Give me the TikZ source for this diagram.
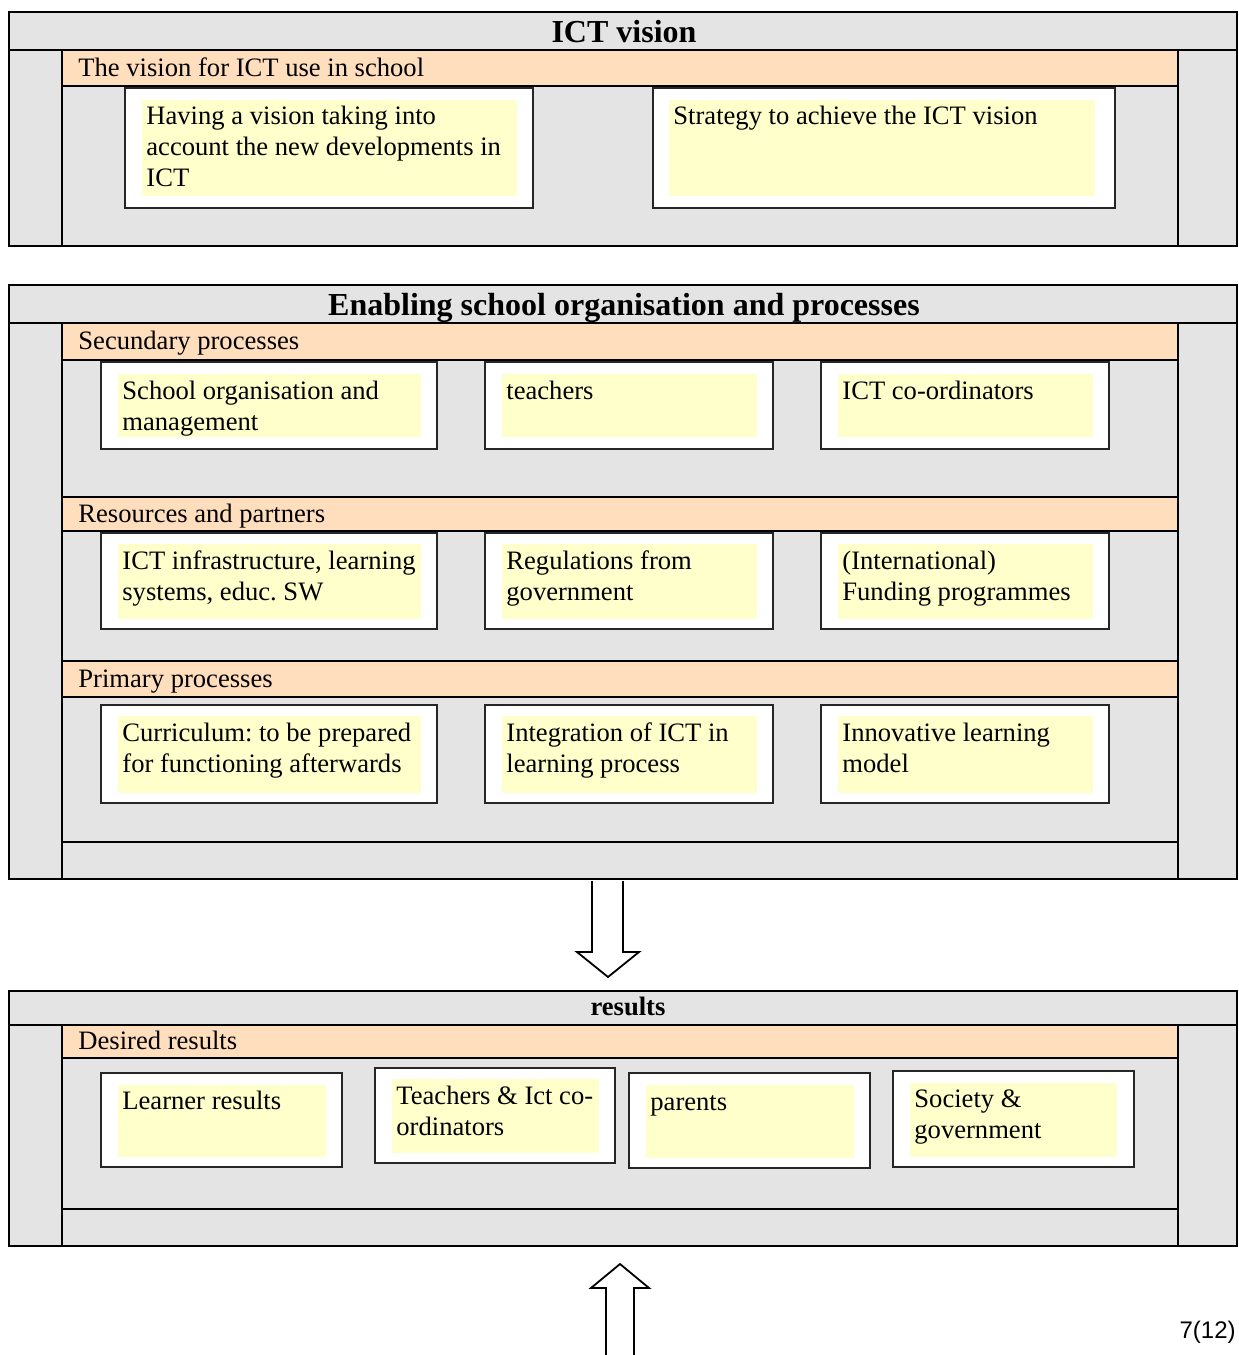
\documentclass[tikz,border=0pt]{standalone}
\usepackage{fontspec}
\setmainfont{Liberation Serif}
\newfontfamily\pgnfont{Liberation Sans}
\frenchspacing
\definecolor{secgray}{HTML}{E4E4E4}
\definecolor{bandorange}{HTML}{FFDEBD}
\definecolor{noteyellow}{HTML}{FFFFCC}
\newcommand{\mlines}[1]{\begin{tabular}[t]{@{}l@{}}#1\end{tabular}}
\begin{document}
\begin{tikzpicture}[x=0.5pt,y=-0.5pt,
  secbox/.style={draw=black,line width=1pt,fill=secgray},
  bandfill/.style={fill=bandorange},
  rulel/.style={line width=1pt,draw=black},
  wbox/.style={draw=black!85,line width=0.9pt,fill=white},
  ybox/.style={fill=noteyellow},
  body/.style={font=\fontsize{13.3}{15.5}\selectfont,inner sep=0pt,anchor=base west},
  sectitle/.style={font=\fontsize{16}{19}\selectfont\bfseries,inner sep=0pt,anchor=base},
  smalltitle/.style={font=\fontsize{13.3}{15}\selectfont\bfseries,inner sep=0pt,anchor=base},
  blockarrow/.style={draw=black,line width=0.9pt,fill=white,line join=miter}]
\useasboundingbox (0,0) rectangle (1238,1355);

% ================= Section 1: ICT vision =================
\draw[secbox] (9,12) rectangle (1237,246);
\fill[bandfill] (62,50) rectangle (1178,86);
\draw[rulel] (9,50) -- (1237,50);
\draw[rulel] (62,86) -- (1178,86);
\draw[rulel] (62,50) -- (62,246);
\draw[rulel] (1178,50) -- (1178,246);
\node[sectitle] (t1) at (624,42) {ICT vision};
\node[body] (b1) at (78,76) {The vision for ICT use in school};

\draw[wbox] (125,88) rectangle (533,208);
\fill[ybox] (142,100) rectangle (517,196);
\node[body] (v1) at (146,124) {\mlines{Having a vision taking into\\account the new developments in\\ICT}};
\draw[wbox] (653,88) rectangle (1115,208);
\fill[ybox] (669,100) rectangle (1095,196);
\node[body] (v2) at (673,124) {Strategy to achieve the ICT vision};

% ================= Section 2: Enabling =================
\draw[secbox] (9,285) rectangle (1237,879);
\fill[bandfill] (62,323) rectangle (1178,360);
\fill[bandfill] (62,497) rectangle (1178,531);
\fill[bandfill] (62,661) rectangle (1178,697);
\draw[rulel] (9,323) -- (1237,323);
\draw[rulel] (62,360) -- (1178,360);
\draw[rulel] (62,497) -- (1178,497);
\draw[rulel] (62,531) -- (1178,531);
\draw[rulel] (62,661) -- (1178,661);
\draw[rulel] (62,697) -- (1178,697);
\draw[rulel] (62,842) -- (1178,842);
\draw[rulel] (62,323) -- (62,879);
\draw[rulel] (1178,323) -- (1178,879);
\node[sectitle] (t2) at (624,315) {Enabling school organisation and processes};
\node[body] (b2) at (78,349) {Secundary processes};
\node[body] (b3) at (78,522) {Resources and partners};
\node[body] (b4) at (78,687) {Primary processes};

% row 1
\draw[wbox] (101,362) rectangle (437,449);
\fill[ybox] (118,374) rectangle (421,437);
\node[body] (s1) at (122,399) {\mlines{School organisation and\\management}};
\draw[wbox] (485,362) rectangle (773,449);
\fill[ybox] (502,374) rectangle (757,437);
\node[body] (s2) at (506,399) {teachers};
\draw[wbox] (821,362) rectangle (1109,449);
\fill[ybox] (838,374) rectangle (1093,437);
\node[body] (s3) at (842,399) {ICT co-ordinators};

% row 2
\draw[wbox] (101,533) rectangle (437,629);
\fill[ybox] (118,544) rectangle (421,619);
\node[body] (r1) at (122,569) {\mlines{ICT infrastructure, learning\\systems, educ. SW}};
\draw[wbox] (485,533) rectangle (773,629);
\fill[ybox] (502,544) rectangle (757,619);
\node[body] (r2) at (506,569) {\mlines{Regulations from\\government}};
\draw[wbox] (821,533) rectangle (1109,629);
\fill[ybox] (838,544) rectangle (1093,619);
\node[body] (r3) at (842,569) {\mlines{(International)\\Funding programmes}};

% row 3
\draw[wbox] (101,705) rectangle (437,803);
\fill[ybox] (118,716) rectangle (421,793);
\node[body] (p1) at (122,741) {\mlines{Curriculum: to be prepared\\for functioning afterwards}};
\draw[wbox] (485,705) rectangle (773,803);
\fill[ybox] (502,716) rectangle (757,793);
\node[body] (p2) at (506,741) {\mlines{Integration of ICT in\\learning process}};
\draw[wbox] (821,705) rectangle (1109,803);
\fill[ybox] (838,716) rectangle (1093,793);
\node[body] (p3) at (842,741) {\mlines{Innovative learning\\model}};

% ================= Down arrow =================
\coordinate (dtip) at (608,977);
\draw[blockarrow] (592,881) -- (592,952) -- (577,952) -- (dtip) -- (639,952) -- (623,952) -- (623,881);

% ================= Section 3: results =================
\draw[secbox] (9,991) rectangle (1237,1246);
\fill[bandfill] (62,1025) rectangle (1178,1058);
\draw[rulel] (9,1025) -- (1237,1025);
\draw[rulel] (62,1058) -- (1178,1058);
\draw[rulel] (62,1209) -- (1178,1209);
\draw[rulel] (62,1025) -- (62,1246);
\draw[rulel] (1178,1025) -- (1178,1246);
\node[smalltitle] (t3) at (628,1015) {results};
\node[body] (b5) at (78,1049) {Desired results};

\draw[wbox] (101,1073) rectangle (342,1167);
\fill[ybox] (118,1085) rectangle (326,1157);
\node[body] (d1) at (122,1109) {Learner results};
\draw[wbox] (375,1068) rectangle (615,1163);
\fill[ybox] (392,1079) rectangle (599,1153);
\node[body] (d2) at (396,1104) {\mlines{Teachers \& Ict co-\\ordinators}};
\draw[wbox] (629,1073) rectangle (870,1168);
\fill[ybox] (646,1085) rectangle (854,1158);
\node[body] (d3) at (650,1110) {parents};
\draw[wbox] (893,1071) rectangle (1134,1167);
\fill[ybox] (910,1083) rectangle (1117,1157);
\node[body] (d4) at (914,1107) {\mlines{Society \&\\government}};

% ================= Up arrow =================
\coordinate (utip) at (620,1264);
\draw[blockarrow] (606,1356) -- (606,1288) -- (591,1288) -- (utip) -- (649,1288) -- (634,1288) -- (634,1356);

% ================= Page number =================
\node[font=\pgnfont\fontsize{12}{14}\selectfont,inner sep=0pt,anchor=base east] (pg) at (1236,1338) {7(12)};
\end{tikzpicture}
\end{document}
